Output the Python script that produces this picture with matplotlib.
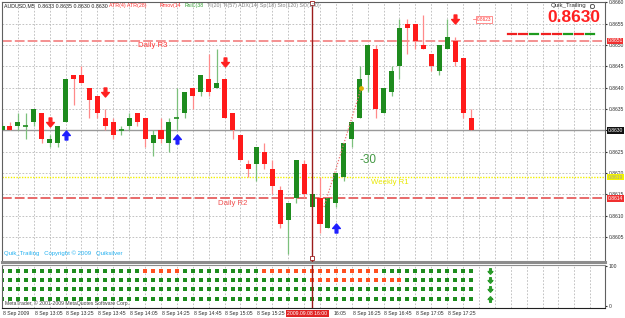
import matplotlib
matplotlib.use('Agg')
import matplotlib.pyplot as plt
from matplotlib.path import Path
from matplotlib.lines import Line2D
from matplotlib.transforms import blended_transform_factory as blend

plt.rcParams['font.family'] = ['Liberation Sans', 'DejaVu Sans']

# --- data (AUDUSD M5, 8 Sep 2009 from 12:45) ---
opens = [0.8630, 0.8631, 0.8631, 0.8631, 0.8632, 0.8634, 0.8627, 0.8627, 0.8632, 0.8643,
         0.8643, 0.8640, 0.8638, 0.8633, 0.8632, 0.8630, 0.8631, 0.8634, 0.8633, 0.8627,
         0.8630, 0.8627, 0.8633, 0.8634, 0.8640, 0.8639, 0.8642, 0.8640, 0.8642, 0.8634,
         0.8629, 0.8622, 0.8622, 0.8625, 0.8621, 0.8616, 0.8609, 0.8614, 0.8622, 0.8612,
         0.8614, 0.8607, 0.8613, 0.8619, 0.8628, 0.8633, 0.8643, 0.8649, 0.8634, 0.8639,
         0.8645, 0.8655, 0.8655, 0.8650, 0.8648, 0.8644, 0.8649, 0.8651, 0.8647, 0.8633]
highs = [0.8632, 0.8632, 0.8634, 0.8634, 0.8635, 0.8634, 0.8629, 0.8631, 0.8642, 0.8643,
         0.8645, 0.8640, 0.8638, 0.8635, 0.8633, 0.8631, 0.8634, 0.8634, 0.8633, 0.8630,
         0.8633, 0.8633, 0.8640, 0.8639, 0.8640, 0.8643, 0.8648, 0.8649, 0.8642, 0.8634,
         0.8629, 0.8623, 0.8626, 0.8627, 0.8623, 0.8617, 0.8613, 0.8623, 0.8623, 0.8615,
         0.8619, 0.8614, 0.8620, 0.8627, 0.8632, 0.8645, 0.8650, 0.8650, 0.8640, 0.8645,
         0.8656, 0.8656, 0.8655, 0.8657, 0.8648, 0.8650, 0.8656, 0.8652, 0.8647, 0.8635]
lows = [0.8630, 0.8630, 0.8630, 0.8628, 0.8631, 0.8627, 0.8626, 0.8626, 0.8632, 0.8636,
        0.8641, 0.8633, 0.8633, 0.8630, 0.8628, 0.8629, 0.8630, 0.8631, 0.8626, 0.8624,
        0.8627, 0.8625, 0.8630, 0.8633, 0.8635, 0.8638, 0.8638, 0.8640, 0.8633, 0.8628,
        0.8623, 0.8619, 0.8618, 0.8621, 0.8615, 0.8607, 0.8601, 0.8613, 0.8614, 0.8612,
        0.8606, 0.8607, 0.8612, 0.8618, 0.8626, 0.8633, 0.8639, 0.8633, 0.8634, 0.8638,
        0.8642, 0.8648, 0.8649, 0.8649, 0.8644, 0.8643, 0.8649, 0.8645, 0.8633, 0.8630]
closes = [0.8631, 0.8630, 0.8632, 0.8631, 0.8635, 0.8628, 0.8628, 0.8631, 0.8642, 0.8642,
          0.8641, 0.8637, 0.8634, 0.8631, 0.8629, 0.8630, 0.8633, 0.8632, 0.8628, 0.8629,
          0.8628, 0.8632, 0.8633, 0.8639, 0.8638, 0.8643, 0.8639, 0.8641, 0.8633, 0.8630,
          0.8623, 0.8621, 0.8626, 0.8622, 0.8617, 0.8608, 0.8613, 0.8623, 0.8615, 0.8615,
          0.8608, 0.8614, 0.8620, 0.8627, 0.8632, 0.8642, 0.8650, 0.8635, 0.8640, 0.8644,
          0.8654, 0.8654, 0.8651, 0.8649, 0.8645, 0.8650, 0.8652, 0.8646, 0.8634, 0.8630]
start_h, start_m = 12, 45

sell_bars = [6, 13, 28, 57]
sell_prices = [0.8632, 0.8639, 0.8646, 0.8656]
buy_bars = [8, 22, 42]
buy_prices = [0.8629, 0.8628, 0.8607]

daily_r3 = 0.8651
daily_r2 = 0.8614
weekly_r1 = 0.8619
bid = 0.8630
price_ticks = [0.8605, 0.8610, 0.8615, 0.8620, 0.8625, 0.8630, 0.8635, 0.8640,
               0.8645, 0.8650, 0.8655, 0.8660]
marker_bar = 39
trail_x = [40.5, 45.2]
trail_y = [0.8612, 0.8640]
pips_text = '-30'
label_price = 0.8623

# indicator rows in sub window: 'g' green / 'r' red for each bar
row_levels = [88, 65, 42, 18]
row1 = 'g' * 18 + 'r' * 5 + 'g' * 10 + 'r' * 15 + 'g' * 12
row2 = 'g' * 39 + 'r' * 12 + 'g' * 9
row3 = 'g' * 60
row4 = 'g' * 60
rows = [row1, row2, row3, row4]
row_arrows = ['down', 'down', 'down', 'up']
signal_bar = 61.4
state_dashes = ['r', 'r', 'g', 'r', 'r', 'g', 'r', 'g']

# --- figure ---
W, H = 625, 318
fig = plt.figure(figsize=(W / 100, H / 100), dpi=100)
fig.patch.set_facecolor('white')


def fx(px):
    return px / W


def fy(py):
    return 1 - py / H


ax = fig.add_axes([fx(2), fy(262), (605 - 2) / W, (262 - 2) / H])
sub = fig.add_axes([fx(2), fy(308), (605 - 2) / W, (308 - 265) / H])

x_right = 75.85
for a in (ax, sub):
    a.set_xlim(0, x_right)
    a.set_facecolor('white')
    a.set_xticks(range(2, 76, 2))
    a.tick_params(axis='x', length=0, labelbottom=False)
    a.grid(True, axis='x', color='#B8B8B8', lw=0.6, ls=(0, (2, 2)))
    a.set_axisbelow(True)
    for s in a.spines.values():
        s.set_color('#606060')
        s.set_linewidth(0.8)

ax.set_ylim(0.85991, 0.86601)
ax.yaxis.tick_right()
ax.set_yticks(price_ticks)
ax.set_yticklabels([f'{t:.4f}' for t in price_ticks])
ax.tick_params(axis='y', length=1.5, labelsize=3.6, colors='#303030', pad=1)
ax.grid(True, axis='y', color='#B8B8B8', lw=0.6, ls=(0, (2, 2)))
ax.spines['bottom'].set_color('#8C8C8C')
ax.spines['bottom'].set_linewidth(2.2)

sub.set_ylim(-5, 102.5)
sub.yaxis.tick_right()
sub.set_yticks([0, 100])
sub.set_yticklabels(['0', '100'])
sub.tick_params(axis='y', length=1.5, labelsize=3.6, colors='#303030', pad=1)
sub.spines['top'].set_color('#8C8C8C')
sub.spines['bottom'].set_color('#202020')

# candles
green, red = '#1E8B1E', '#FF1A1A'
for i in range(len(opens)):
    o, h, l, c = opens[i], highs[i], lows[i], closes[i]
    up = c >= o
    ax.vlines(i, l, h, color='#7CC07C' if up else '#FF8A8A', lw=0.9, zorder=2)
    if abs(c - o) < 1e-7:
        ax.hlines(o, i - 0.32, i + 0.32, color=green, lw=1.2, zorder=3)
    else:
        ax.bar(i, abs(c - o), bottom=min(o, c), width=0.64,
               color=green if up else red, lw=0, zorder=3)

# levels
ax.axhline(daily_r3, color='#F49090', lw=1.4, ls=(0, (5, 1.6)), zorder=1)
ax.axhline(daily_r2, color='#E86A6A', lw=1.4, ls=(0, (5, 1.6)), zorder=1)
ax.axhline(weekly_r1, color='#F2F000', lw=1.0, ls=(0, (1, 1)), zorder=1)
ax.axhline(bid, color='#9A9A9A', lw=1.0, zorder=1)
ax.text(19.0, daily_r3 - 0.00012, 'Daily R3', color='#FF3A3A', fontsize=5.6, ha='center', va='center')
ax.text(29.0, daily_r2 - 0.00012, 'Daily R2', color='#F05050', fontsize=5.6, ha='center', va='center')
ax.text(48.8, weekly_r1 - 0.00012, 'Weekly R1', color='#E8E800', fontsize=5.6, ha='center', va='center')

# trailing line and labels
ax.plot(trail_x, trail_y, color='#F07070', lw=0.9, ls=(0, (1, 1.4)), zorder=4)
ax.plot(trail_x[-1], trail_y[-1], 'o', ms=2.4, color='#E0B000', zorder=5)
ax.text(46.0, 0.8623, pips_text, color='#449944', fontsize=8.5, ha='center', va='center')
ax.plot([59.2, 59.8], [0.8656, 0.8656], color='#FF8080', lw=0.6)
ax.text(60.6, 0.8656, f'{label_price:.4f}', color='#FF3030', fontsize=3.4, ha='center', va='center',
        bbox=dict(boxstyle='square,pad=0.15', fc='white', ec='#FF6060', lw=0.5))

# arrows
up_verts = [(-0.3, -1), (0.3, -1), (0.3, 0), (0.85, 0), (0, 1), (-0.85, 0), (-0.3, 0), (-0.3, -1)]
codes = [Path.MOVETO] + [Path.LINETO] * 6 + [Path.CLOSEPOLY]
up_arrow = Path(up_verts, codes)
down_arrow = Path([(x, -y) for x, y in up_verts], codes)
ax.plot(sell_bars, sell_prices, ls='none', marker=down_arrow, ms=6.5, color='#FF2020', zorder=6)
ax.plot(buy_bars, buy_prices, ls='none', marker=up_arrow, ms=6.5, color='#1E1EFF', zorder=6)

# time marker line
for a in (ax, sub):
    a.axvline(marker_bar, color='#9B1B1B', lw=1.0, zorder=7)
ax.plot([marker_bar, marker_bar], [0.86598, 0.86000], ls='none', marker='s', ms=2.5,
        mfc='white', mec='#9B1B1B', mew=0.6, zorder=8, clip_on=False)

# sub-window dots
col = {'g': '#1E8C1E', 'r': '#FF5020'}
for lev, row in zip(row_levels, rows):
    for i, s in enumerate(row):
        sub.plot(i, lev, 's', ms=2.8, color=col[s], mew=0)
for lev, d in zip(row_levels, row_arrows):
    sub.plot(signal_bar, lev, marker=down_arrow if d == 'down' else up_arrow,
             ms=4, color='#2A9A2A', ls='none')
sub.text(0.005, 0.04, 'MetaTrader, © 2001-2009 MetaQuotes Software Corp.', transform=sub.transAxes,
         fontsize=3.7, color='#404040', va='bottom', ha='left')

# time axis labels (the marker box hides the ones under it)
tb = blend(sub.transData, sub.transAxes)
for i in range(0, 57, 4):
    t = start_h * 60 + start_m + 5 * i
    if i == 0:
        lab, xi = '8 Sep 2009', i + 0.1
    elif i == 36:
        continue
    elif i == 40:
        lab, xi = f'{t // 60}:{t % 60:02d}', i + 1.75
    else:
        lab, xi = f'8 Sep {t // 60}:{t % 60:02d}', i + 0.1
    sub.text(xi, -0.13, lab, transform=tb, fontsize=3.7, color='#303030',
             ha='left', va='center', clip_on=False)
t = start_h * 60 + start_m + 5 * marker_bar
sub.text(marker_bar - 0.6, -0.13, f'2009.09.08 {t // 60}:{t % 60:02d}', transform=tb, fontsize=3.7,
         color='white', ha='center', va='center', clip_on=False, zorder=10,
         bbox=dict(boxstyle='square,pad=0.25', fc='#E02424', ec='none'))

# right axis price boxes
pb = blend(ax.transAxes, ax.transData)
for p, fc, tc in [(daily_r3, '#F03030', 'white'), (bid, '#111111', 'white'),
                  (weekly_r1, '#F4F400', '#A0A0A0'), (daily_r2, '#F03030', 'white')]:
    ax.text(1.004, p, f'{p:.4f}', transform=pb, fontsize=3.6, color=tc, ha='left', va='center',
            clip_on=False, zorder=10, bbox=dict(boxstyle='square,pad=0.15', fc=fc, ec='none'))

# header texts
fig.text(fx(4), fy(5.5), 'AUDUSD,M5  0.8633 0.8635 0.8630 0.8630', fontsize=3.8, color='#202020', va='center')
fig.text(fx(109), fy(5.5), 'ATR(4) ATR(28)', fontsize=3.8, color='#FF3030', va='center')
fig.text(fx(160), fy(5.5), 'Rmov(14', fontsize=3.8, color='#FF3030', va='center')
fig.text(fx(185), fy(5.5), 'RsiC(38', fontsize=3.8, color='#30A030', va='center')
fig.text(fx(207), fy(5.5), 'TI(20) TI(57) ADX(14) Sp(18) Sto(120) SO(120)', fontsize=3.8,
         color='#808080', va='center')
fig.text(fx(586), fy(6), 'Quik_Trailing', fontsize=4.4, color='#303030', va='center', ha='right')
fig.add_artist(Line2D([fx(592)], [fy(6)], marker='o', ms=3, mfc='white', mec='#404040', mew=0.6))
fig.text(fx(600), fy(18), f'{bid:.4f}', fontsize=12.5, fontweight='bold', color='#FF2020',
         va='center', ha='right')
dash_col = {'r': '#F02020', 'g': '#1E9A1E'}
for k, s in enumerate(state_dashes):
    x0 = 508 + k * 11.2
    fig.add_artist(Line2D([fx(x0), fx(x0 + 8)], [fy(34), fy(34)], color=dash_col[s], lw=1.6))
fig.text(fx(4), fy(253), 'Quik_Trailing   Copyright © 2009   Quiksilver', fontsize=4.3,
         color='#22B0F0', va='center')

fig.savefig('out.png', dpi=100)
